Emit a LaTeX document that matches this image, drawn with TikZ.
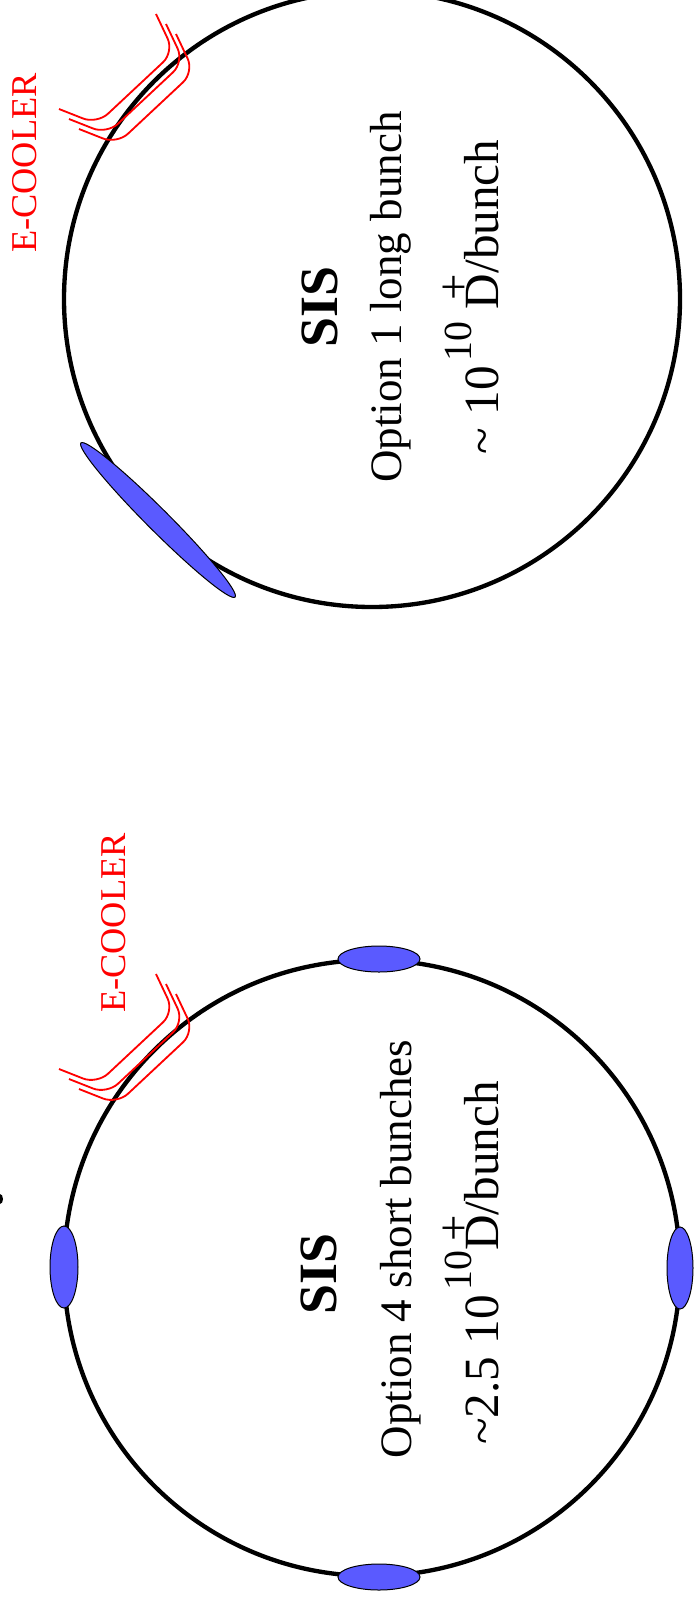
\documentclass[tikz,border=0pt]{standalone}
\usepackage{fontspec}
\setmainfont{Liberation Serif}
\usepackage{xcolor}
\usepackage{tikz}
\definecolor{beamblue}{RGB}{90,90,255}
\definecolor{coolred}{RGB}{255,0,0}
\tikzset{
  ring/.style={draw=black,line width=1.3mm},
  bunch/.style={draw=black,fill=beamblue,line width=0.3mm},
  coolpipe/.style={draw=coolred,line width=0.55mm,rounded corners=4.5mm},
  coollbl/.style={text=coolred,rotate=90,inner sep=0pt,font=\fontsize{31}{33}\selectfont},
  ringname/.style={rotate=90,inner sep=0pt,font=\bfseries\fontsize{46}{48}\selectfont},
  ringtxt/.style={rotate=90,inner sep=0pt,font=\fontsize{38.4}{40}\selectfont},
  ringnum/.style={rotate=90,inner sep=0pt,font=\fontsize{42}{44}\selectfont},
}
\newcommand{\upidx}[1]{\raisebox{0.55em}{\fontsize{34}{36}\selectfont #1}}
\newcommand{\upplus}{\makebox[0pt][r]{\raisebox{0.6em}{\fontsize{40}{42}\selectfont +}}}

\begin{document}
\begin{tikzpicture}[x=0.3mm,y=-0.3mm]
  \useasboundingbox (0,0) rectangle (694,1599);

  % option 1: one long bunch
  \draw[ring] (372,299) circle [radius=308];
  \draw[bunch,rotate around={-45:(158,520)}] (158,520) ellipse [x radius=109,y radius=11];
  \draw[coolpipe] (156,14) -- (174,52) -- (97,124) -- (59,109);
  \draw[coolpipe] (166,24) -- (184,62) -- (107,134) -- (69,119);
  \draw[coolpipe] (176,34) -- (194,72) -- (117,144) -- (79,129);
  \node[coollbl] (coolA) at (24.5,163) {E-COOLER};
  \node[ringname] (sisA) at (320,307) {SIS};
  \node[ringtxt] (optA) at (391,297) {Option 1 long bunch};
  \node[ringnum] (numA) at (471,297)
        {\textasciitilde{} 10\kern0.1em\upidx{10} D\upplus/bunch};

  % option 4: four short bunches
  \draw[ring] (372,1268) circle [radius=308];
  \draw[bunch] (379,959)  ellipse [x radius=41,y radius=13];
  \draw[bunch] (379,1577) ellipse [x radius=41,y radius=13];
  \draw[bunch] (64,1267)  ellipse [x radius=14,y radius=41];
  \draw[bunch] (680,1268) ellipse [x radius=13,y radius=41];
  \draw[coolpipe] (156,974) -- (174,1012) -- (97,1084) -- (59,1069);
  \draw[coolpipe] (166,984) -- (184,1022) -- (107,1094) -- (69,1079);
  \draw[coolpipe] (176,994) -- (194,1032) -- (117,1104) -- (79,1089);
  \node[coollbl] (coolB) at (113.5,923) {E-COOLER};
  \node[ringname] (sisB) at (319,1274) {SIS};
  \node[ringtxt] (optB) at (401,1249) {Option 4 short bunches};
  \node[ringnum] (numB) at (471,1263)
        {\textasciitilde{}2.5 10\kern0.1em\upidx{10}D\upplus/bunch};

  \fill (0,1199) ellipse [x radius=3,y radius=5];
\end{tikzpicture}
\end{document}
